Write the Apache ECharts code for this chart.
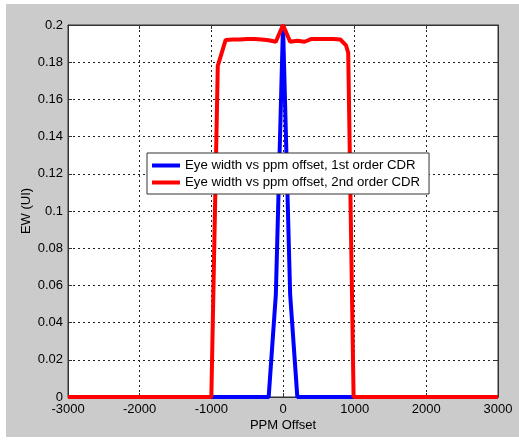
<!DOCTYPE html>
<html>
<head>
<meta charset="utf-8">
<script src="https://cdn.jsdelivr.net/npm/echarts@6/dist/echarts.min.js"></script>
<style>
html,body{margin:0;padding:0;background:#fff;}
#wrap{position:absolute;left:0;top:0;width:519px;height:440px;background:#fff;}
#chart{position:absolute;left:6px;top:4px;width:513px;height:433px;background:#cbcbcb;}
</style>
</head>
<body>
<div id="wrap"><div id="chart"></div></div>
<script>
// ---- data ----
const xTicks = [-3000, -2000, -1000, 0, 1000, 2000, 3000];
const yTicks = [0, 0.02, 0.04, 0.06, 0.08, 0.1, 0.12, 0.14, 0.16, 0.18, 0.2];

const bluePpm = [-3000, -200, -100, 0, 100, 200, 3000];
const blueEW  = [0, 0, 0.055, 0.2, 0.055, 0, 0];

const redPpm = [-3000, -1000, -910, -800, -700, -600, -500, -400, -300, -200, -100, 0, 100, 200, 300, 400, 500, 600, 700, 800, 880, 910, 985, 3000];
const redEW  = [0, 0, 0.178, 0.192, 0.1922, 0.1922, 0.1925, 0.1925, 0.1922, 0.1918, 0.191, 0.2, 0.191, 0.1915, 0.191, 0.1925, 0.1925, 0.1925, 0.1925, 0.1922, 0.189, 0.185, 0, 0];

const blueName = 'Eye width vs ppm offset, 1st order CDR';
const redName  = 'Eye width vs ppm offset, 2nd order CDR';
const xName = 'PPM Offset';
const yName = 'EW (UI)';

const zip = (a, b) => a.map((v, i) => [v, b[i]]);

const FONT = 'Liberation Sans, Arial, sans-serif';
const gridLine = { show: true, lineStyle: { color: '#222', width: 1, type: [2, 3] } };

const chart = echarts.init(document.getElementById('chart'), null, { renderer: 'canvas' });
chart.setOption({
  animation: false,
  textStyle: { fontFamily: FONT },
  grid: { left: 62, top: 21, width: 430, height: 372, show: true, backgroundColor: '#fff', borderColor: '#333', borderWidth: 1 },
  legend: {
    orient: 'vertical', left: 141, top: 149, z: 20, zlevel: 0,
    backgroundColor: '#fff', borderColor: '#333', borderWidth: 1,
    padding: [6, 9, 5, 5], itemGap: 4, itemWidth: 28, itemHeight: 4,
    icon: 'rect',
    textStyle: { fontFamily: FONT, fontSize: 13.2, color: '#000', padding: [0, 0, 0, 0] },
    data: [blueName, redName]
  },
  xAxis: [{
    type: 'value', min: xTicks[0], max: xTicks[xTicks.length - 1], interval: 1000,
    name: xName, nameLocation: 'middle', nameGap: 22, nameMoveOverlap: false,
    nameTextStyle: { fontFamily: FONT, fontSize: 13, color: '#000' },
    axisLine: { show: true, onZero: false, lineStyle: { color: '#333', width: 1 } },
    axisTick: { show: true, inside: true, length: 4, lineStyle: { color: '#333' } },
    axisLabel: { fontFamily: FONT, fontSize: 13, color: '#000', margin: 6,
      formatter: v => String(v) },
    splitLine: gridLine
  }, {
    type: 'value', position: 'top', min: xTicks[0], max: xTicks[xTicks.length - 1], interval: 1000,
    axisLine: { show: true, onZero: false, lineStyle: { color: '#333', width: 1 } },
    axisTick: { show: true, inside: true, length: 4, lineStyle: { color: '#333' } },
    axisLabel: { show: false }, splitLine: { show: false }
  }],
  yAxis: [{
    type: 'value', min: yTicks[0], max: yTicks[yTicks.length - 1], interval: 0.02,
    name: yName, nameLocation: 'middle', nameGap: 35, nameRotate: 90, nameMoveOverlap: false,
    nameTextStyle: { fontFamily: FONT, fontSize: 13, color: '#000' },
    axisLine: { show: true, onZero: false, lineStyle: { color: '#333', width: 1 } },
    axisTick: { show: true, inside: true, length: 4, lineStyle: { color: '#333' } },
    axisLabel: { fontFamily: FONT, fontSize: 13, color: '#000', margin: 5,
      formatter: v => String(+v.toFixed(2)) },
    splitLine: gridLine
  }, {
    type: 'value', position: 'right', min: yTicks[0], max: yTicks[yTicks.length - 1], interval: 0.02,
    axisLine: { show: true, onZero: false, lineStyle: { color: '#333', width: 1 } },
    axisTick: { show: true, inside: true, length: 4, lineStyle: { color: '#333' } },
    axisLabel: { show: false }, splitLine: { show: false }
  }],
  series: [{
    name: blueName, type: 'line', data: zip(bluePpm, blueEW), showSymbol: false, symbol: 'none',
    clip: false, lineStyle: { color: '#0000ff', width: 4 }, itemStyle: { color: '#0000ff' }, z: 2
  }, {
    name: redName, type: 'line', data: zip(redPpm, redEW), showSymbol: false, symbol: 'none',
    clip: false, lineStyle: { color: '#ff0000', width: 4 }, itemStyle: { color: '#ff0000' }, z: 3
  }]
});
</script>
</body>
</html>
